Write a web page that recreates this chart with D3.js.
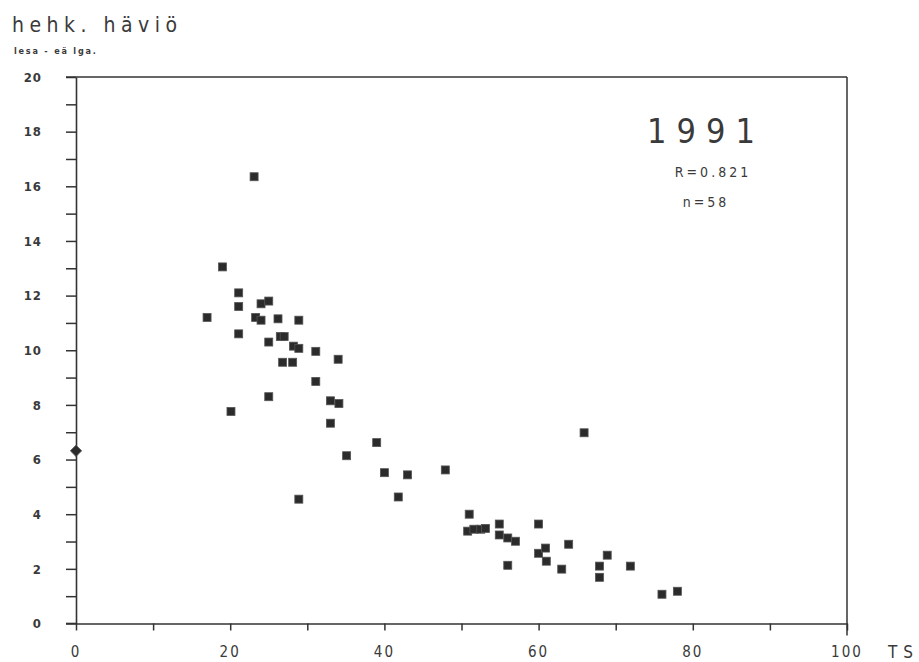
<!DOCTYPE html>
<html>
<head>
<meta charset="utf-8">
<script src="https://cdn.jsdelivr.net/npm/d3@7"></script>
<style>
  html, body { margin: 0; padding: 0; background: #fff; }
  svg { display: block; }
  text { font-family: "DejaVu Sans Condensed", "DejaVu Sans", sans-serif; fill: #3a3a3a; }
</style>
</head>
<body>
<script>
// ---- data ----
const xValues = [0, 17, 19, 20.1, 21.1, 21.1, 21.1, 23.1, 23.3, 24, 24, 25, 25, 25, 26.2, 26.5, 27, 26.8, 28.1, 28.2,
  28.9, 28.9, 28.9, 31.1, 31.1, 33, 34.1, 33, 34, 35.1, 39, 40, 43, 41.8, 47.9, 51, 50.8, 51.6, 52.5, 53.1,
  54.9, 54.9, 56, 57, 56, 60, 60, 60.9, 61, 63.9, 63, 65.9, 67.9, 67.9, 68.9, 71.9, 76, 78];
const yValues = [6.32, 11.2, 13.05, 7.76, 12.1, 11.6, 10.6, 16.35, 11.2, 11.1, 11.7, 11.8, 10.3, 8.3, 11.15, 10.5, 10.5, 9.56, 9.56, 10.15,
  10.07, 11.1, 4.55, 9.96, 8.86, 8.15, 8.05, 7.33, 9.67, 6.14, 6.62, 5.52, 5.44, 4.63, 5.62, 4.0, 3.38, 3.45, 3.45, 3.48,
  3.64, 3.24, 3.13, 3.01, 2.13, 3.64, 2.57, 2.76, 2.28, 2.9, 1.99, 6.98, 2.1, 1.69, 2.5, 2.1, 1.07, 1.18];
const xTickLabels = [0, 20, 40, 60, 80, 100];
const yTickLabels = [0, 2, 4, 6, 8, 10, 12, 14, 16, 18, 20];
const titleText = "hehk. häviö";
const unitText = "lesa - eä lga.";
const yearText = "1991";
const rText = "R=0.821";
const nText = "n=58";
const xAxisTitle = "TS";

// ---- chart ----
const W = 919, H = 662;
const svg = d3.select("body").append("svg").attr("width", W).attr("height", H);
const x = d3.scaleLinear().domain([0, 100]).range([76, 847]);
const y = d3.scaleLinear().domain([0, 20]).range([623.5, 77]);
const ink = "#333";

// y axis
const yAxis = d3.axisLeft(y)
  .tickValues(d3.range(0, 21, 1))
  .tickSize(10).tickSizeOuter(0)
  .tickFormat(d => yTickLabels.includes(d) ? d : "")
  .tickPadding(24);
const gy = svg.append("g").attr("transform", `translate(${x(0)},0)`).call(yAxis);
gy.select(".domain").attr("stroke", ink).attr("stroke-width", 1.6);
gy.selectAll(".tick line").attr("stroke", ink).attr("stroke-width", 1.5);
gy.selectAll(".tick text").attr("font-size", 13).attr("fill", "#333").attr("font-weight", "bold")
  .attr("font-family", "DejaVu Sans Condensed, DejaVu Sans, sans-serif").attr("letter-spacing", 1);

// x axis
const xAxis = d3.axisBottom(x)
  .tickValues(d3.range(0, 101, 10))
  .tickSize(7).tickSizeOuter(0)
  .tickFormat("");
const gx = svg.append("g").attr("transform", `translate(0,${y(0)})`).call(xAxis);
gx.select(".domain").attr("stroke", ink).attr("stroke-width", 1.6);
gx.selectAll(".tick line").attr("stroke", ink).attr("stroke-width", 1.5);

svg.append("g").selectAll("text").data(xTickLabels).join("text")
  .attr("x", d => x(d)).attr("y", y(0) + 33)
  .attr("text-anchor", "middle").attr("font-size", 15).attr("letter-spacing", 2)
  .text(d => d);

// frame (top and right lines, extended like the original)
svg.append("line").attr("x1", x(0) - 10).attr("x2", x(100)).attr("y1", y(20)).attr("y2", y(20))
  .attr("stroke", ink).attr("stroke-width", 1.6);
svg.append("line").attr("x1", x(100)).attr("x2", x(100)).attr("y1", y(20)).attr("y2", y(0) + 12)
  .attr("stroke", ink).attr("stroke-width", 1.5);
svg.append("line").attr("x1", x(0) - 10).attr("x2", x(0)).attr("y1", y(0)).attr("y2", y(0))
  .attr("stroke", ink).attr("stroke-width", 1.6);

// points
const pts = xValues.map((v, i) => ({ x: v, y: yValues[i] }));
const s = 8;
svg.append("g").selectAll("rect").data(pts).join("rect")
  .attr("x", d => x(d.x) - s / 2).attr("y", d => y(d.y) - s / 2)
  .attr("width", s).attr("height", s)
  .attr("fill", "#2b2b2b").attr("stroke", "#555").attr("stroke-width", 0.8)
  .attr("transform", d => d.x === 0 ? `rotate(45,${x(d.x)},${y(d.y)})` : null);

// texts
svg.append("text").attr("x", 12).attr("y", 32).attr("font-size", 21).attr("letter-spacing", 5.5)
  .text(titleText);
svg.append("text").attr("x", 14).attr("y", 54).attr("font-size", 9).attr("font-weight", "bold")
  .attr("letter-spacing", 1.8).text(unitText);
svg.append("text").attr("x", 706).attr("y", 143).attr("text-anchor", "middle")
  .attr("font-size", 34).attr("font-weight", 200).attr("letter-spacing", 10).attr("fill", "#444")
  .text(yearText);
svg.append("text").attr("x", 713).attr("y", 177).attr("text-anchor", "middle")
  .attr("font-size", 14).attr("letter-spacing", 3).text(rText);
svg.append("text").attr("x", 706).attr("y", 207).attr("text-anchor", "middle")
  .attr("font-size", 14).attr("letter-spacing", 3).text(nText);
svg.append("text").attr("x", 888).attr("y", 658).attr("font-size", 17).attr("letter-spacing", 6)
  .attr("font-weight", 300).text(xAxisTitle);
</script>
</body>
</html>
